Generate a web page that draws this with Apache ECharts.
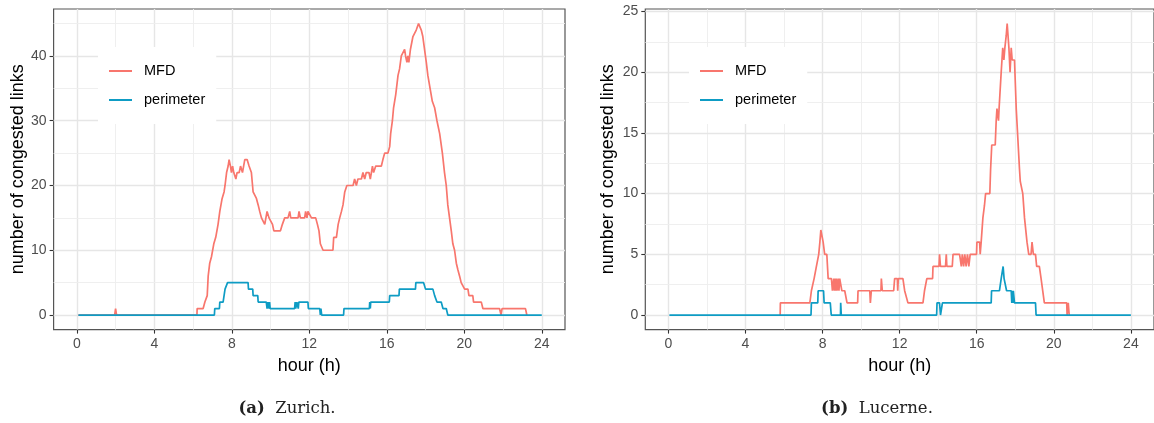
<!DOCTYPE html>
<html>
<head>
<meta charset="utf-8">
<script src="https://cdn.jsdelivr.net/npm/echarts@6/dist/echarts.min.js"></script>
<style>
	html, body { margin: 0; padding: 0; background: #fff; }
	#chart { width: 1154px; height: 423px; }
</style>
</head>
<body>
<div id="chart"></div>
<script>
// tick labels / grid breaks
const hourTicks = [0, 4, 8, 12, 16, 20, 24];
const hourMinor = [2, 6, 10, 14, 18, 22];
const zurichTicks = [0, 10, 20, 30, 40];
const zurichMinor = [5, 15, 25, 35, 45];
const lucerneTicks = [0, 5, 10, 15, 20, 25];
const lucerneMinor = [2.5, 7.5, 12.5, 17.5, 22.5];

// Zurich - MFD
const zurichMfdHour = [0.08, 1.95, 2.0, 2.05, 6.2, 6.21, 6.52, 6.61, 6.73, 6.78, 6.86, 6.95, 7.07, 7.17, 7.29, 7.38, 7.5, 7.6, 7.65, 7.73,
	7.81, 7.86, 7.93, 7.98, 8.04, 8.1, 8.21, 8.27, 8.38, 8.45, 8.55, 8.67, 8.79, 8.89, 9.01, 9.1, 9.19, 9.27, 9.36, 9.44,
	9.53, 9.61, 9.7, 9.82, 9.92, 10.01, 10.1, 10.17, 10.51, 10.61, 10.73, 10.9, 10.99, 11.04, 11.42, 11.47, 11.54, 11.76, 11.81, 11.88,
	11.93, 12.02, 12.11, 12.33, 12.42, 12.5, 12.57, 12.71, 13.22, 13.26, 13.4, 13.49, 13.57, 13.66, 13.74, 13.83, 13.94, 14.26, 14.34, 14.43,
	14.51, 14.69, 14.77, 14.86, 14.94, 15.08, 15.15, 15.26, 15.32, 15.43, 15.72, 15.8, 15.89, 16.06, 16.15, 16.2, 16.29, 16.35, 16.46, 16.58,
	16.66, 16.75, 16.84, 16.92, 16.97, 17.04, 17.09, 17.14, 17.22, 17.29, 17.35, 17.44, 17.52, 17.58, 17.64, 17.71, 17.78, 17.86, 17.95, 18.04,
	18.12, 18.21, 18.35, 18.47, 18.59, 18.73, 18.87, 18.98, 19.07, 19.15, 19.24, 19.33, 19.41, 19.5, 19.59, 19.67, 19.76, 19.84, 19.93, 20.02,
	20.19, 20.24, 20.44, 20.48, 20.88, 20.96, 21.82, 21.9, 21.95, 23.16, 23.23];
const zurichMfdCount = [0, 0, 1, 0, 0, 1, 1, 2, 3, 6, 8, 9, 11, 12, 14, 16, 18, 19, 20, 22,
	23, 24, 23, 22, 23, 22, 21, 22, 22, 23, 22, 24, 24, 23, 22, 19, 19, 18, 17, 16,
	15, 15, 14, 16, 15, 15, 14, 13, 13, 14, 15, 15, 16, 15, 15, 16, 15, 15, 16, 15,
	16, 16, 15, 15, 14, 13, 11, 10, 10, 12, 12, 14, 15, 16, 17, 19, 20, 20, 21, 20,
	21, 21, 22, 21, 22, 22, 21, 23, 22, 23, 23, 24, 25, 25, 26, 28, 30, 32, 34, 37,
	38, 40, 40, 41, 40, 39, 40, 39, 41, 41, 43, 43, 44, 44, 45, 45, 44, 43, 43, 39,
	37, 37, 33, 32, 30, 28, 25, 22, 20, 17, 15, 13, 11, 10, 8, 7, 6, 5, 5, 4,
	4, 3, 3, 2, 2, 1, 1, 0, 1, 1, 0];

// Zurich - perimeter
const zurichPerHour = [0.08, 7.1, 7.12, 7.36, 7.38, 7.55, 7.6, 7.65, 7.73, 7.78, 8.84, 8.86, 9.08, 9.1, 9.34, 9.36, 9.78, 9.82, 9.87, 9.92,
	9.95, 9.98, 11.24, 11.27, 11.3, 11.36, 11.43, 11.46, 11.93, 11.95, 12.54, 12.57, 12.6, 12.64, 13.77, 13.79, 15.1, 15.12, 15.15, 15.17,
	16.13, 16.15, 16.63, 16.65, 17.48, 17.5, 17.9, 18.0, 18.38, 18.47, 18.55, 18.59, 18.81, 18.9, 19.07, 19.15, 24.0];
const zurichPerCount = [0, 0, 1, 1, 2, 2, 3, 4, 4, 5, 5, 4, 4, 3, 3, 2, 2, 1, 2, 1,
	2, 1, 1, 2, 1, 2, 1, 2, 2, 1, 1, 0, 1, 0, 0, 1, 1, 2, 1, 2,
	2, 3, 3, 4, 4, 5, 5, 4, 4, 3, 3, 2, 2, 1, 1, 0, 0];

// Lucerne - MFD
const lucerneMfdHour = [5.8, 5.81, 7.34, 7.42, 7.56, 7.68, 7.8, 7.86, 7.91, 7.99, 8.03, 8.11, 8.22, 8.29, 8.46, 8.51, 8.58, 8.61, 8.65, 8.68,
	8.72, 8.75, 8.82, 8.85, 8.89, 8.95, 9.0, 9.15, 9.27, 9.82, 9.84, 10.45, 10.48, 10.53, 11.03, 11.05, 11.1, 11.69, 11.74, 11.88,
	11.9, 11.93, 12.17, 12.26, 12.35, 12.43, 13.21, 13.29, 13.41, 13.71, 13.73, 14.04, 14.07, 14.12, 14.38, 14.42, 14.45, 14.73, 14.77, 15.11,
	15.2, 15.25, 15.32, 15.38, 15.45, 15.52, 15.59, 15.66, 15.99, 16.01, 16.15, 16.18, 16.23, 16.32, 16.4, 16.46, 16.68, 16.72, 16.78, 16.96,
	17.01, 17.05, 17.1, 17.13, 17.16, 17.27, 17.35, 17.41, 17.46, 17.53, 17.58, 17.67, 17.73, 17.79, 17.84, 17.96, 18.05, 18.13, 18.22, 18.26,
	18.31, 18.39, 18.48, 18.61, 18.7, 18.82, 18.87, 18.94, 19.05, 19.11, 19.25, 19.34, 19.51, 20.67, 20.69, 20.75, 20.8];
const lucerneMfdCount = [0, 1, 1, 2, 3, 4, 5, 6, 7, 7, 6, 5, 5, 3, 3, 2, 3, 2, 3, 2,
	3, 2, 3, 2, 3, 3, 2, 2, 1, 1, 2, 2, 1, 2, 2, 3, 2, 2, 3, 3,
	2, 3, 3, 2, 2, 1, 1, 2, 3, 3, 4, 4, 5, 4, 4, 5, 4, 4, 5, 5,
	4, 5, 4, 5, 4, 5, 4, 5, 5, 6, 6, 5, 6, 8, 9, 10, 10, 12, 14, 14,
	16, 17, 17, 16, 17, 20, 22, 21, 22, 23, 24, 22, 20, 22, 21, 21, 17, 17, 12, 11,
	11, 10, 8, 6, 5, 5, 6, 5, 5, 4, 4, 3, 1, 1, 0, 1, 0];

// Lucerne - perimeter
const lucernePerHour = [0.05, 7.4, 7.42, 7.75, 7.77, 8.05, 8.08, 8.4, 8.45, 8.93, 8.94, 8.97, 13.92, 13.94, 14.07, 14.12, 14.16, 14.22, 16.75, 16.77,
	17.18, 17.27, 17.37, 17.42, 17.48, 17.55, 17.79, 17.82, 17.85, 17.88, 17.9, 17.96, 19.05, 19.08, 24.0];
const lucernePerCount = [0, 0, 1, 1, 2, 2, 1, 1, 0, 0, 1, 0, 0, 1, 1, 0, 0, 1, 1, 2,
	2, 3, 4, 3, 3, 2, 2, 1, 2, 1, 2, 1, 1, 0, 0];

const colMfd = '#F8766D';
const colPer = '#0E9CC4';
const fontSans = 'Liberation Sans';

function pairs(xs, ys) {
	return xs.map(function(x, i) { return [x, ys[i]]; });
}

//网格线用 markLine 画，贴着刻度
function gridLines(xi, majorY, minorY) {
	let data = [];
	hourTicks.forEach(function(v) { data.push({ xAxis: v, lineStyle: { width: 1.4, color: '#e6e6e6' } }); });
	hourMinor.forEach(function(v) { data.push({ xAxis: v, lineStyle: { width: 0.9, color: '#ededed' } }); });
	majorY.forEach(function(v) { data.push({ yAxis: v, lineStyle: { width: 1.4, color: '#e6e6e6' } }); });
	minorY.forEach(function(v) { data.push({ yAxis: v, lineStyle: { width: 0.9, color: '#ededed' } }); });
	return {
		type: 'line',
		xAxisIndex: xi,
		yAxisIndex: xi,
		data: [],
		z: 1,
		silent: true,
		markLine: {
			z: 1,
			silent: true,
			symbol: ['none', 'none'],
			label: { show: false },
			emphasis: { disabled: true },
			animation: false,
			lineStyle: { type: 'solid' },
			data: data
		}
	};
}

function lineSeries(name, xi, xs, ys, color) {
	return {
		name: name,
		type: 'line',
		xAxisIndex: xi,
		yAxisIndex: xi,
		data: pairs(xs, ys),
		showSymbol: false,
		symbol: 'none',
		z: 3,
		lineStyle: { color: color, width: 1.7 },
		itemStyle: { color: color },
		emphasis: { disabled: true }
	};
}

function xAxisOf(gi) {
	return {
		type: 'value',
		gridIndex: gi,
		min: -1.2,
		max: 25.2,
		name: 'hour (h)',
		nameLocation: 'middle',
		nameGap: 27,
		nameTextStyle: { fontFamily: fontSans, fontSize: 18, color: '#000' },
		axisLine: { show: false, onZero: false },
		axisTick: { show: true, customValues: hourTicks, length: 4, lineStyle: { color: '#333', width: 1.1 } },
		axisLabel: { customValues: hourTicks, margin: 8, fontFamily: fontSans, fontSize: 14, color: '#4d4d4d' },
		splitLine: { show: false }
	};
}

function yAxisOf(gi, min, max, ticks, gap) {
	return {
		type: 'value',
		gridIndex: gi,
		min: min,
		max: max,
		name: 'number of congested links',
		nameLocation: 'middle',
		nameGap: gap,
		nameTextStyle: { fontFamily: fontSans, fontSize: 18, color: '#000' },
		axisLine: { show: false, onZero: false },
		axisTick: { show: true, customValues: ticks, length: 4, lineStyle: { color: '#333', width: 1.1 } },
		axisLabel: { customValues: ticks, margin: 7, fontFamily: fontSans, fontSize: 14, color: '#4d4d4d' },
		splitLine: { show: false }
	};
}

function legendOf(left) {
	return {
		data: ['MFD', 'perimeter'],
		orient: 'vertical',
		left: left,
		top: 47,
		backgroundColor: '#fff',
		padding: [15, 11, 15, 11],
		itemGap: 11,
		icon: 'rect',
		itemWidth: 23,
		itemHeight: 2,
		selectedMode: false,
		textStyle: { fontFamily: fontSans, fontSize: 14.5, color: '#000', lineHeight: 18, padding: [0, 0, 0, 7] }
	};
}

const myChart = echarts.init(document.getElementById('chart'), null, { renderer: 'canvas' });

let option = {
	animation: false,
	backgroundColor: '#fff',
	grid: [
		{ left: 53.6, top: 9, width: 511.4, height: 320.6, show: true, backgroundColor: '#fff', borderColor: '#555', borderWidth: 1.2, containLabel: false },
		{ left: 645.3, top: 9, width: 510, height: 320.6, show: true, backgroundColor: '#fff', borderColor: '#555', borderWidth: 1.2, containLabel: false }
	],
	xAxis: [xAxisOf(0), xAxisOf(1)],
	yAxis: [
		yAxisOf(0, -2.25, 47.25, zurichTicks, 21),
		yAxisOf(1, -1.2, 25.2, lucerneTicks, 28)
	],
	legend: [legendOf(98), legendOf(689)],
	series: [
		gridLines(0, zurichTicks, zurichMinor),
		gridLines(1, lucerneTicks, lucerneMinor),
		lineSeries('MFD', 0, zurichMfdHour, zurichMfdCount, colMfd),
		lineSeries('perimeter', 0, zurichPerHour, zurichPerCount, colPer),
		lineSeries('MFD', 1, lucerneMfdHour, lucerneMfdCount, colMfd),
		lineSeries('perimeter', 1, lucernePerHour, lucernePerCount, colPer)
	],
	graphic: [
		{
			type: 'text', x: 287, y: 409,
			style: {
				text: '{b|(a)}  Zurich.', align: 'center', verticalAlign: 'middle',
				fontFamily: 'DejaVu Serif', fontSize: 16.5, fill: '#222',
				rich: { b: { fontFamily: 'DejaVu Serif', fontSize: 16.5, fontWeight: 'bold', fill: '#222' } }
			}
		},
		{
			type: 'text', x: 877, y: 409,
			style: {
				text: '{b|(b)}  Lucerne.', align: 'center', verticalAlign: 'middle',
				fontFamily: 'DejaVu Serif', fontSize: 16.5, fill: '#222',
				rich: { b: { fontFamily: 'DejaVu Serif', fontSize: 16.5, fontWeight: 'bold', fill: '#222' } }
			}
		}
	]
};

myChart.setOption(option);
</script>
</body>
</html>
